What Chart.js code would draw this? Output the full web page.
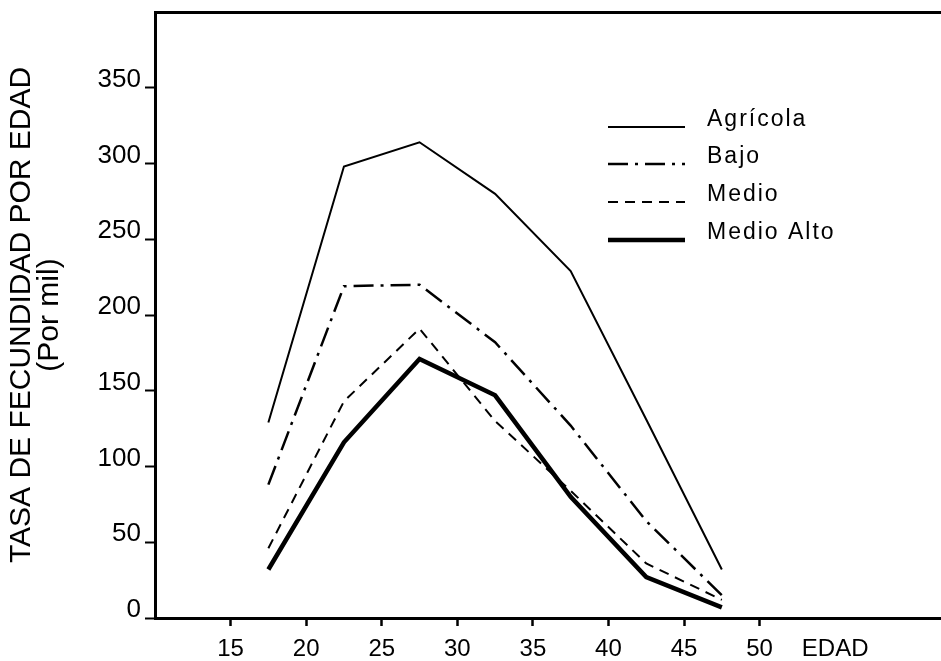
<!DOCTYPE html>
<html>
<head>
<meta charset="utf-8">
<script src="https://cdn.jsdelivr.net/npm/chart.js@4.4.1/dist/chart.umd.min.js"></script>
<style>
    html, body { margin: 0; padding: 0; background: #fff; }
    #wrap { width: 941px; height: 661px; }
</style>
</head>
<body>
<div id="wrap"><canvas id="tasaChart"></canvas></div>
<script>
// Grupos de edad (punto medio) y tasas por mil
const edades = [17.5, 22.5, 27.5, 32.5, 37.5, 42.5, 47.5];
const agricola = [129, 298, 314, 280, 229, 131, 32];
const bajo = [88, 219, 220, 182, 127, 64, 15];
const medio = [46, 143, 191, 130, 84, 36, 12];
const medioAlto = [32, 116, 171, 147, 80, 27, 7];

const xTickValues = [15, 20, 25, 30, 35, 40, 45, 50, 55];
const xTickLabels = ['15', '20', '25', '30', '35', '40', '45', '50', 'EDAD'];
const yTickValues = [0, 50, 100, 150, 200, 250, 300, 350];

const seriesNames = ['Agrícola', 'Bajo', 'Medio', 'Medio Alto'];

function toPoints(values) {
    return values.map((v, i) => ({x: edades[i], y: v}));
}

Chart.defaults.font.family = "'Liberation Sans', Arial, sans-serif";
Chart.defaults.color = '#000';

// leyenda dibujada dentro del area del grafico
const legendaInterna = {
    id: 'legendaInterna',
    afterDatasetsDraw(chart) {
        const ctx = chart.ctx;
        const lineY = [127, 164, 202, 240];
        ctx.save();
        chart.data.datasets.forEach((ds, i) => {
            ctx.beginPath();
            ctx.setLineDash(ds.borderDash || []);
            ctx.lineWidth = ds.borderWidth;
            ctx.strokeStyle = ds.borderColor;
            ctx.lineCap = 'butt';
            ctx.moveTo(608, lineY[i]);
            ctx.lineTo(685, lineY[i]);
            ctx.stroke();
            ctx.setLineDash([]);
            ctx.font = "23px 'Liberation Sans', Arial, sans-serif";
            ctx.letterSpacing = '2px';
            ctx.fillStyle = '#000';
            ctx.textBaseline = 'middle';
            ctx.fillText(ds.label, 707, lineY[i] - 7);
        });
        ctx.restore();
    }
};

const ctx = document.getElementById('tasaChart').getContext('2d');
new Chart(ctx, {
    type: 'line',
    data: {
        datasets: [{
            label: seriesNames[0],
            data: toPoints(agricola),
            borderColor: '#000',
            borderWidth: 2,
            pointRadius: 0
        }, {
            label: seriesNames[1],
            data: toPoints(bajo),
            borderColor: '#000',
            borderWidth: 2.5,
            borderDash: [20, 7, 3, 7],
            pointRadius: 0
        }, {
            label: seriesNames[2],
            data: toPoints(medio),
            borderColor: '#000',
            borderWidth: 2,
            borderDash: [10, 7],
            pointRadius: 0
        }, {
            label: seriesNames[3],
            data: toPoints(medioAlto),
            borderColor: '#000',
            borderWidth: 4.5,
            pointRadius: 0
        }]
    },
    options: {
        responsive: true,
        maintainAspectRatio: false,
        animation: false,
        layout: {padding: 0},
        elements: {line: {tension: 0}},
        plugins: {
            legend: {display: false},
            tooltip: {enabled: false}
        },
        scales: {
            x: {
                type: 'linear',
                min: 10,
                max: 62,
                afterBuildTicks: function (scale) {
                    scale.ticks = xTickValues.map(v => ({value: v}));
                },
                afterFit: function (scale) {
                    scale.height = 43;
                    scale.paddingLeft = 0;
                    scale.paddingRight = 0;
                },
                ticks: {
                    autoSkip: false,
                    maxRotation: 0,
                    padding: 9,
                    font: {size: 24},
                    callback: function (value) {
                        const i = xTickValues.indexOf(value);
                        return i >= 0 ? xTickLabels[i] : '';
                    }
                },
                grid: {
                    drawOnChartArea: false,
                    tickLength: 8,
                    tickWidth: 2.5,
                    tickColor: c => (c.tick && c.tick.value === 55) ? 'rgba(0,0,0,0)' : '#000'
                },
                border: {display: true, color: '#000', width: 3}
            },
            xTop: {
                type: 'linear',
                position: 'top',
                min: 10,
                max: 62,
                afterFit: function (scale) {
                    scale.height = 12;
                    scale.paddingLeft = 0;
                    scale.paddingRight = 0;
                },
                ticks: {display: false},
                grid: {display: false, drawTicks: false},
                border: {display: true, color: '#000', width: 3}
            },
            y: {
                min: 0,
                max: 400,
                afterBuildTicks: function (scale) {
                    scale.ticks = yTickValues.map(v => ({value: v}));
                },
                afterFit: function (scale) {
                    scale.width = 155;
                    scale.paddingTop = 0;
                    scale.paddingBottom = 0;
                },
                ticks: {
                    padding: 4,
                    labelOffset: -8,
                    font: {size: 26}
                },
                grid: {
                    drawOnChartArea: false,
                    tickLength: 10,
                    tickWidth: 2,
                    tickColor: '#000'
                },
                border: {display: true, color: '#000', width: 3},
                title: {
                    display: true,
                    text: ['TASA DE FECUNDIDAD POR EDAD', '(Por mil)'],
                    font: {size: 30, lineHeight: 0.93},
                    padding: {top: 8, bottom: 0}
                }
            }
        }
    },
    plugins: [legendaInterna]
});
</script>
</body>
</html>
